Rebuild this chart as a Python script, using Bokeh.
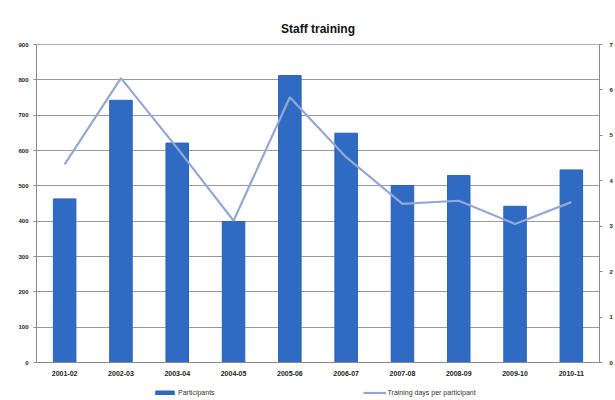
from bokeh.plotting import figure
from bokeh.layouts import column
from bokeh.models import (LinearAxis, Range1d, FactorRange, Legend, LegendItem,
                          SingleIntervalTicker, ColumnDataSource)
from bokeh.embed import file_html
from bokeh.resources import INLINE

# Financial years on the category axis
years = ["2001-02", "2002-03", "2003-04", "2004-05", "2005-06",
         "2006-07", "2007-08", "2008-09", "2009-10", "2010-11"]
# Number of staff who attended training (left axis)
participants = [463, 742, 621, 399, 812, 649, 501, 529, 442, 545]
# Average training days per participant (right axis)
days_per_participant = [4.36, 6.26, 4.72, 3.12, 5.84, 4.52, 3.49, 3.56, 3.05, 3.53]

legend_labels = ["Participants", "Training days per participant"]

BAR_FILL = "#2f6bc2"
BAR_LINE = "#2a62b5"
LINE_COLOR = "#94a8d6"

src = ColumnDataSource(dict(year=years, participants=participants,
                            days=days_per_participant))

p = figure(x_range=FactorRange(*years), y_range=Range1d(0, 900),
           width=615, frame_width=563, frame_height=318,
           min_border_left=36, min_border_right=16, min_border_top=44,
           min_border_bottom=20, output_backend="svg", toolbar_location=None,
           title="Staff training")

p.title.text_font = "Liberation Sans"
p.title.text_font_size = "12px"
p.title.text_font_style = "bold"
p.title.align = "center"
p.title.text_color = "#111111"
p.title.standoff = 17

p.extra_y_ranges = {"right": Range1d(0, 7)}

p.vbar(x="year", top="participants", width=0.4, source=src,
       fill_color=BAR_FILL, line_color=BAR_LINE, line_width=1)
p.line(x="year", y="days", y_range_name="right", source=src,
       line_color=LINE_COLOR, line_width=2.2)

# Axes
p.yaxis.ticker = SingleIntervalTicker(interval=100)
right_axis = LinearAxis(y_range_name="right",
                        ticker=SingleIntervalTicker(interval=1))
p.add_layout(right_axis, "right")

for ax in [p.yaxis[0], right_axis, p.xaxis[0]]:
    ax.axis_line_color = "#8a8a8a"
    ax.major_tick_line_color = "#8a8a8a"
    ax.minor_tick_line_color = None
    ax.major_tick_out = 3
    ax.major_tick_in = 0
    ax.major_label_text_font = "Liberation Sans"
    ax.major_label_text_font_size = "6px"
    ax.major_label_text_font_style = "bold"
    ax.major_label_text_color = "#222222"
    ax.major_label_standoff = 4

right_axis.major_label_standoff = 6
p.xaxis.major_tick_line_color = None
p.xaxis.major_tick_out = 0
p.xaxis.major_label_standoff = 8
p.xaxis.major_label_text_font_size = "7px"

p.xgrid.grid_line_color = None
p.ygrid.grid_line_color = "#9a9a9a"
p.ygrid.grid_line_width = 1.2
p.outline_line_color = "#b0b0b0"
p.x_range.range_padding = 0.0
p.x_range.group_padding = 0.0
p.background_fill_color = "white"
p.border_fill_color = "white"

# Legend strip under the chart; its swatch renderers hold no drawable points
leg = figure(width=615, height=18, x_range=Range1d(0, 1), y_range=Range1d(0, 1),
             min_border=0, output_backend="svg", toolbar_location=None)
leg.axis.visible = False
leg.grid.grid_line_color = None
leg.outline_line_color = None
leg.border_fill_color = "white"
nan = float("nan")
leg_bar = leg.vbar(x=[nan], top=[nan], width=0.4, fill_color=BAR_FILL, line_color=BAR_LINE)
leg_line = leg.line(x=[nan], y=[nan], line_color=LINE_COLOR, line_width=2.2)

legend = Legend(items=[LegendItem(label=legend_labels[0], renderers=[leg_bar]),
                       LegendItem(label=legend_labels[1], renderers=[leg_line])],
                orientation="horizontal", location=(117, 4),
                label_text_font="Liberation Sans", label_text_font_size="7px",
                label_text_color="#333333", glyph_width=23, glyph_height=5,
                label_height=5, spacing=148, padding=0, margin=0,
                border_line_color=None, background_fill_alpha=0, label_standoff=2)
leg.add_layout(legend, "center")

open("out.html", "w").write(file_html(column(p, leg, spacing=0), INLINE))
